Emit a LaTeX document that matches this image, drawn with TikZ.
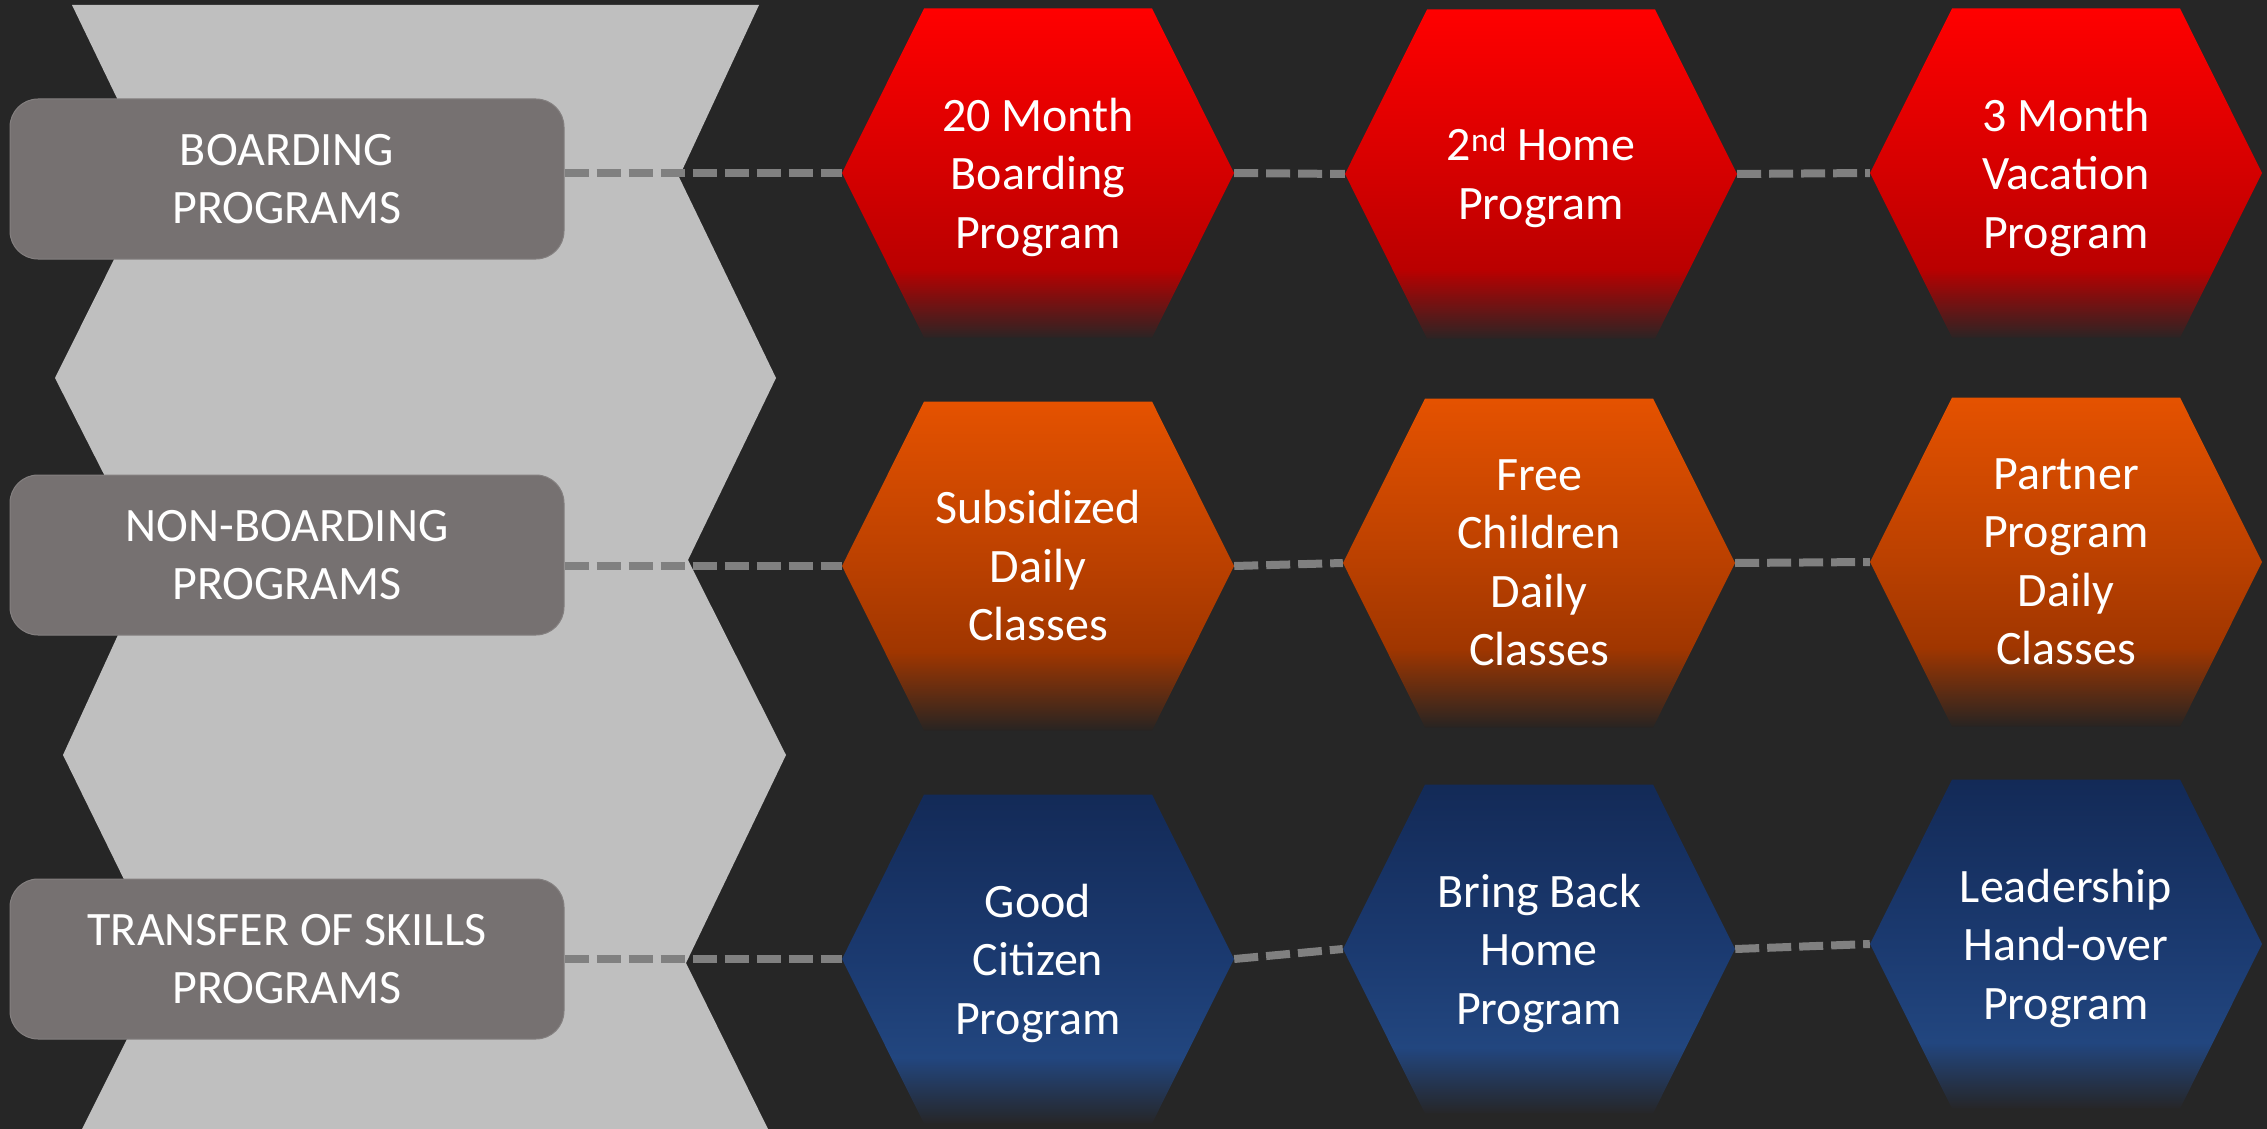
\documentclass[tikz,border=0pt]{standalone}
\usepackage{fontspec}
\setmainfont{Carlito}
\definecolor{bgc}{HTML}{262626}
\definecolor{chev}{HTML}{BFBFBF}
\definecolor{boxc}{HTML}{767171}
\definecolor{boxline}{HTML}{848080}
\definecolor{dashc}{HTML}{808080}
\definecolor{rTop}{HTML}{FF0000}
\definecolor{rMid}{HTML}{D40000}
\definecolor{rFade}{HTML}{BA0000}
\definecolor{rBot}{HTML}{2C2424}
\definecolor{oTop}{HTML}{E55200}
\definecolor{oMid}{HTML}{BA4000}
\definecolor{oFade}{HTML}{A03600}
\definecolor{oBot}{HTML}{282422}
\definecolor{bTop}{HTML}{132A57}
\definecolor{bMid}{HTML}{1B3A70}
\definecolor{bFade}{HTML}{22467F}
\definecolor{bBot}{HTML}{262628}
\pgfdeclareverticalshading{redhex}{100bp}{color(0bp)=(rBot); color(25bp)=(rBot); color(35.5bp)=(rFade); color(50bp)=(rMid); color(75bp)=(rTop); color(100bp)=(rTop)}
\pgfdeclareverticalshading{orangehex}{100bp}{color(0bp)=(oBot); color(25bp)=(oBot); color(37bp)=(oFade); color(50bp)=(oMid); color(75bp)=(oTop); color(100bp)=(oTop)}
\pgfdeclareverticalshading{bluehex}{100bp}{color(0bp)=(bBot); color(25bp)=(bBot); color(35bp)=(bFade); color(50bp)=(bMid); color(75bp)=(bTop); color(100bp)=(bTop)}
\newcommand\bigfont{\fontsize{48}{58.5}\selectfont}
\newcommand\hexat[6][]{%
  \shade[shading=#5] (#3,#4) ++(-196,0) -- ++(82,-164.5) -- ++(228,0) -- ++(82,164.5) -- ++(-82,164.5) -- ++(-228,0) -- cycle;
  \node[hexnode] (#2) at (#3,#4) {};
  \node[hextext,#1] (#2t) at (#2) {#6};
}
\begin{document}
\begin{tikzpicture}[x=1pt,y=-1pt,
  catbox/.style={rectangle, rounded corners=28pt, fill=boxc, draw=boxline, line width=1pt,
    minimum width=554pt, minimum height=160pt, inner sep=0pt, text=white, align=center, font=\bigfont},
  hexnode/.style={rectangle, minimum width=392pt, minimum height=329pt, inner sep=0pt},
  hextext/.style={inner sep=0pt, text=white, align=center, font=\bigfont},
  conn/.style={draw=dashc, line width=8pt, dash pattern=on 24pt off 8pt}]
\useasboundingbox (0,0) rectangle (2267,1129);
\fill[bgc] (0,0) rectangle (2267,1129);
% gray zig-zag band
\fill[chev] (72,5) -- (759,5) -- (679,177) -- (776,378) -- (688,560) -- (786,755) -- (686,963) -- (768,1129)
  -- (82,1129) -- (165,963) -- (63,755) -- (150,565) -- (55,378) -- (155,177) -- cycle;
% category boxes
\node[catbox] (b1) at (287,179) {BOARDING\\PROGRAMS};
\node[catbox] (b2) at (287,555) {NON-BOARDING\\PROGRAMS};
\node[catbox] (b3) at (287,959) {TRANSFER OF SKILLS\\PROGRAMS};
% hexagons
\hexat[yshift=-4pt]{h1}{1038}{173}{redhex}{20 Month\\Boarding\\Program}
\hexat[yshift=-4pt]{h2}{1541}{174}{redhex}{2\textsuperscript{nd} Home\\Program}
\hexat[yshift=-4pt]{h3}{2066}{173}{redhex}{3 Month\\Vacation\\Program}
\hexat{h4}{1038}{566}{orangehex}{Subsidized\\Daily\\Classes}
\hexat{h5}{1539}{563}{orangehex}{Free\\Children\\Daily\\Classes}
\hexat{h6}{2066}{562}{orangehex}{Partner\\Program\\Daily\\Classes}
\hexat[yshift=-4pt]{h7}{1038}{959}{bluehex}{Good\\Citizen\\Program}
\hexat[yshift=-4pt]{h8}{1539}{949}{bluehex}{Bring Back\\Home\\Program}
\hexat[yshift=-4pt]{h9}{2066}{944}{bluehex}{Leadership\\Hand-over\\Program}
% connectors
\draw[conn] (b1.east |- h1.west) -- (h1.west);
\draw[conn] (h1.east) -- (h2.west);
\draw[conn] (h2.east) -- (h3.west);
\draw[conn] (b2.east |- h4.west) -- (h4.west);
\draw[conn] (h4.east) -- (h5.west);
\draw[conn] (h5.east) -- (h6.west);
\draw[conn] (b3.east |- h7.west) -- (h7.west);
\draw[conn] (h7.east) -- (h8.west);
\draw[conn] (h8.east) -- (h9.west);
\end{tikzpicture}
\end{document}
